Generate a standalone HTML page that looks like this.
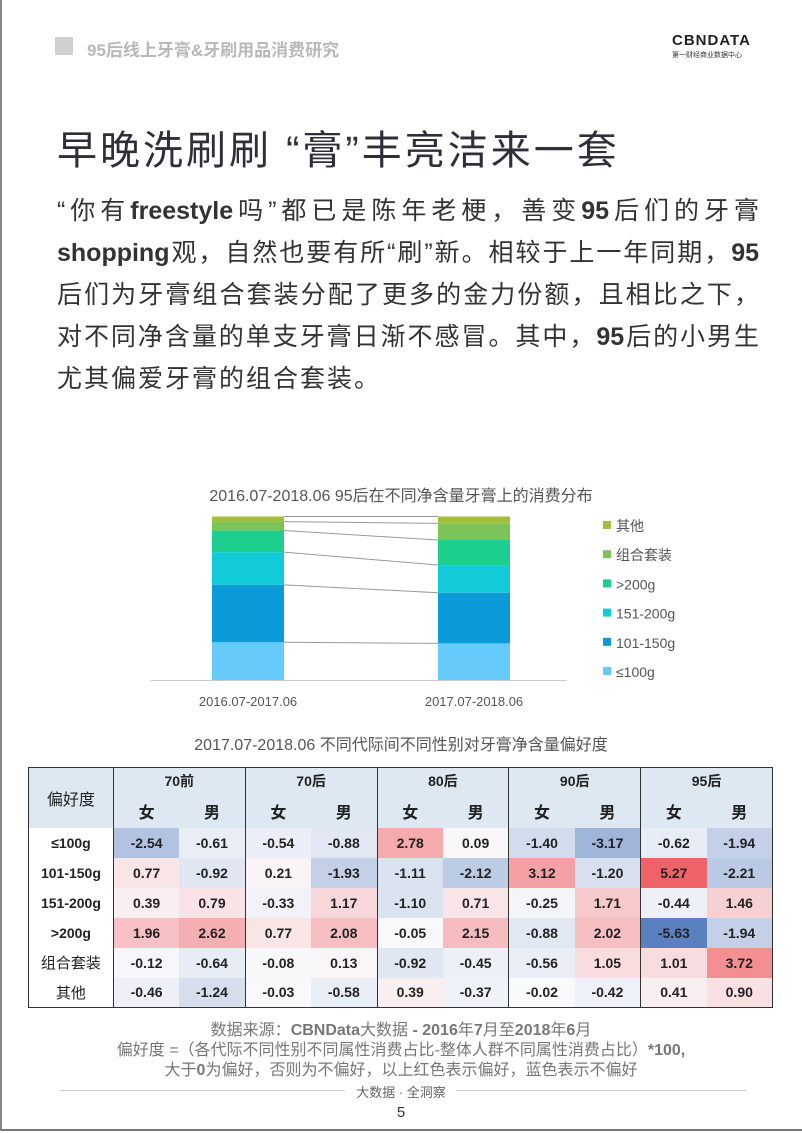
<!DOCTYPE html>
<html><head><meta charset="utf-8">
<style>
*{margin:0;padding:0;box-sizing:border-box}
body{width:802px;height:1133px;background:#fff;position:relative;overflow:hidden;font-family:"Liberation Sans","Noto Sans CJK SC",sans-serif;color:#333}
.abs{position:absolute}
#page-border{position:absolute;left:0;top:0;width:802px;height:1131px;border-left:2px solid #888;border-bottom:2px solid #777}
#hdr-sq{left:55px;top:37px;width:18px;height:18px;background:#d0d0d0}
#hdr-t{left:87px;top:36px;font-size:17px;color:#b8b8b8;font-weight:bold}
#logo{left:672px;top:32px;font-size:15px;font-weight:bold;color:#222;letter-spacing:1px}
#logo2{left:672px;top:50px;font-size:7px;color:#333}
#title{left:57px;top:118px;font-size:40px;color:#2f2f3a;font-family:"Liberation Sans","Noto Sans CJK SC",sans-serif;white-space:nowrap;letter-spacing:3px}
#para{left:57px;top:190px;width:702px;font-size:25px;line-height:42px;color:#333;font-family:"Liberation Sans","Noto Sans CJK SC",sans-serif}
#para div{white-space:nowrap;text-align:justify;text-align-last:justify;text-justify:inter-character}
#para div.last{text-align-last:left;letter-spacing:2px}
#para b{font-weight:bold}
.ct{font-size:16px;color:#555;width:802px;text-align:center;left:0}
table{border-collapse:collapse;position:absolute;left:28px;top:767px;width:745px;font-size:14px;font-family:"Liberation Sans","Noto Sans CJK SC",sans-serif}
td,th{text-align:center;font-weight:bold;color:#222}
th{background:#dde8f3}
#foot{left:0;width:802px;text-align:center;font-size:16px;color:#777;line-height:20px;top:1021px}
#foot b{font-weight:bold}
</style></head><body>
<div id="page-border"></div>
<div class="abs" id="hdr-sq"></div>
<div class="abs" id="hdr-t">95后线上牙膏&amp;牙刷用品消费研究</div>
<div class="abs" id="logo">CBNDATA</div>
<div class="abs" id="logo2">第一财经商业数据中心</div>
<div class="abs" id="title">早晚洗刷刷 “膏”丰亮洁来一套</div>
<div class="abs" id="para">
<div>“你有<b>freestyle</b>吗”都已是陈年老梗，善变<b>95</b>后们的牙膏</div>
<div><b>shopping</b>观，自然也要有所“刷”新。相较于上一年同期，<b>95</b></div>
<div>后们为牙膏组合套装分配了更多的金力份额，且相比之下，</div>
<div>对不同净含量的单支牙膏日渐不感冒。其中，<b>95</b>后的小男生</div>
<div class="last">尤其偏爱牙膏的组合套装。</div>
</div>

<div class="abs ct" style="top:482px">2016.07-2018.06 95后在不同净含量牙膏上的消费分布</div>
<svg class="abs" style="left:0;top:0" width="802" height="1133" id="chart"></svg>

<div class="abs ct" style="top:731px">2017.07-2018.06 不同代际间不同性别对牙膏净含量偏好度</div>
<table id="tbl"></table>

<div class="abs" id="foot">数据来源：<b>CBNData</b>大数据 <b>- 2016</b>年<b>7</b>月至<b>2018</b>年<b>6</b>月<br>偏好度 =（各代际不同性别不同属性消费占比-整体人群不同属性消费占比）<b>*100,</b><br>大于<b>0</b>为偏好，否则为不偏好，以上红色表示偏好，蓝色表示不偏好</div>
<div class="abs" style="left:60px;top:1090px;width:285px;height:1px;background:#ccc"></div>
<div class="abs" style="left:456px;top:1090px;width:290px;height:1px;background:#ccc"></div>
<div class="abs" style="left:0;width:802px;text-align:center;top:1082px;font-size:13px;color:#666">大数据 · 全洞察</div>
<div class="abs" style="left:0;width:802px;text-align:center;top:1104px;font-size:15px;color:#333">5</div>

<script>
const periods=["2016.07-2017.06","2017.07-2018.06"];
const seriesNames=["≤100g","101-150g","151-200g",">200g","组合套装","其他"];
const seriesColors=["#66cbfa","#0a9bd8","#12cbd8","#1ccf8e","#7cc35a","#a3be3c"];
const p2017=[23.1,35.1,20.0,13.2,5.5,3.1];
const p2018=[22.4,31.0,16.9,15.3,10.2,4.2];
const values=[p2017,p2018];

const NS="http://www.w3.org/2000/svg";
const svg=document.getElementById('chart');
const y0=680,plotH=163.5;
const yS=v=>y0-v/100*plotH;
const barX=[212,438],barW=72;
function mk(t,a){const e=document.createElementNS(NS,t);for(const k in a)e.setAttribute(k,a[k]);svg.appendChild(e);return e;}
const tops=[];
values.forEach((vals,i)=>{let c=0;const t=[];vals.forEach((v,j)=>{
 const r=mk('rect',{x:barX[i],y:yS(c+v),width:barW,height:yS(c)-yS(c+v),fill:seriesColors[j]});
 
 
 c+=v;t.push(c);});tops.push(t);});
for(let j=0;j<seriesNames.length;j++){
 const l=mk('line',{x1:barX[0]+barW,y1:yS(tops[0][j]),x2:barX[1],y2:yS(tops[1][j]),stroke:'#999','stroke-width':1});
 
 
}
const ax=mk('line',{x1:150,y1:y0+0.5,x2:567,y2:y0+0.5,stroke:'#ccc'});


periods.forEach((p,i)=>{const t=mk('text',{x:barX[i]+barW/2,y:706,'text-anchor':'middle','font-size':13,fill:'#555','font-family':'Liberation Sans, sans-serif'});t.textContent=p;
 
 });
seriesNames.forEach((n,j)=>{const y=677-j*29.2;
 const r=mk('rect',{x:603,y:y-10,width:8,height:8,fill:seriesColors[j]});
 
 
 const t=mk('text',{x:616,y:y,'font-size':14,fill:'#555','font-family':'Liberation Sans, Noto Sans CJK SC, sans-serif'});t.textContent=n;
 
 });

const gens=["70前","70后","80后","90后","95后"];
const rowLabels=["≤100g","101-150g","151-200g",">200g","组合套装","其他"];
const prefVals=[
[-2.54,-0.61,-0.54,-0.88,2.78,0.09,-1.40,-3.17,-0.62,-1.94],
[0.77,-0.92,0.21,-1.93,-1.11,-2.12,3.12,-1.20,5.27,-2.21],
[0.39,0.79,-0.33,1.17,-1.10,0.71,-0.25,1.71,-0.44,1.46],
[1.96,2.62,0.77,2.08,-0.05,2.15,-0.88,2.02,-5.63,-1.94],
[-0.12,-0.64,-0.08,0.13,-0.92,-0.45,-0.56,1.05,1.01,3.72],
[-0.46,-1.24,-0.03,-0.58,0.39,-0.37,-0.02,-0.42,0.41,0.90]];
function col(v){const m=5.6;let f=Math.min(Math.abs(v)/m,1);
 const c=v>=0?[240,88,94]:[90,128,192];
 const w=[250,250,252];
 return 'rgb('+c.map((x,i)=>Math.round(w[i]+(x-w[i])*f)).join(',')+')';}
const tbl=document.getElementById('tbl');
let h='<tr style="height:27px"><th rowspan="2" style="width:85px;font-weight:normal;font-size:16px;border-right:1px solid #333">偏好度</th>';
gens.forEach((g,i)=>{h+='<th colspan="2" style="border-right:1px solid #333">'+g+'</th>';});
h+='</tr><tr style="height:33px">';
gens.forEach((g,i)=>{h+='<th style="font-size:16px">女</th><th style="font-size:16px;border-right:1px solid #333">男</th>';});
h+='</tr>';
prefVals.forEach((r,ri)=>{h+='<tr style="height:30px"><td style="border-right:1px solid #333">'+(ri>=4?'<span style="font-weight:normal;font-size:15px">'+rowLabels[ri]+'</span>':rowLabels[ri])+'</td>';
 r.forEach((v,ci)=>{h+='<td style="background:'+col(v)+';width:66px'+(ci%2?';border-right:1px solid #333':'')+'">'+v.toFixed(2)+'</td>';});
 h+='</tr>';});
tbl.innerHTML=h;
tbl.style.border='1.5px solid #333';
</script>
</body></html>
